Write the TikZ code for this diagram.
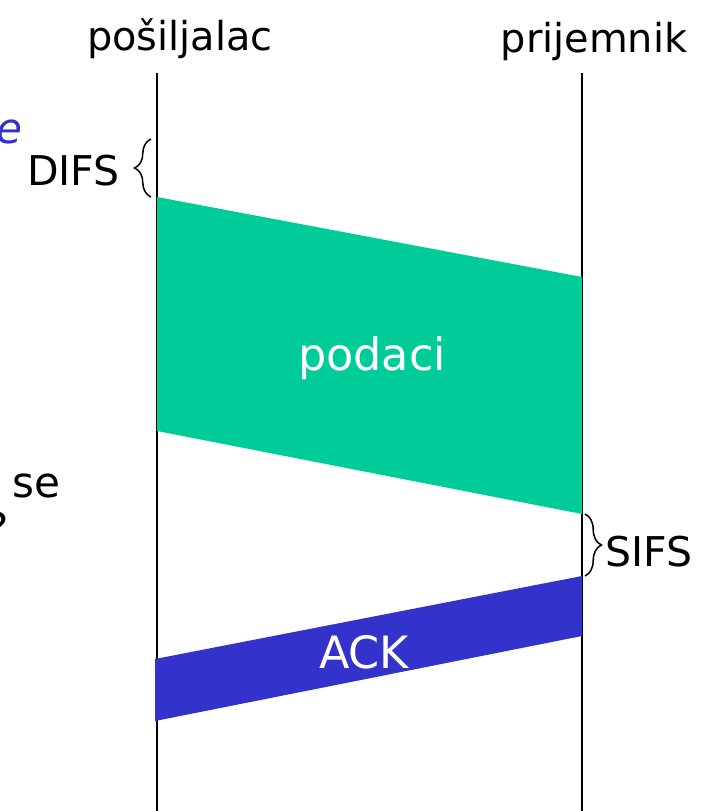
\documentclass[tikz,border=0pt]{standalone}
\usepackage{fontspec}
\setmainfont{DejaVu Sans}
\usetikzlibrary{calc,positioning,decorations.pathreplacing}
\definecolor{podacigreen}{RGB}{0,204,153}
\definecolor{ackblue}{RGB}{51,51,204}
\tikzset{
  station/.style={
      font=\fontsize{34}{40}\selectfont,
      anchor=base,
      inner sep=0pt,
  },
  timeline/.style={
      draw,
      line width=1.2pt,
  },
  framelabel/.style={
      text=white,
      font=\fontsize{38}{44}\selectfont,
      anchor=base,
      inner sep=0pt,
  },
  gap/.style={
      draw,
      decorate,
      decoration={brace,amplitude=14pt},
      line width=1.3pt,
  },
  gaplabel/.style={
      font=\fontsize{35}{41}\selectfont,
      inner sep=0pt,
  },
  cutoff/.style={
      font=\fontsize{36}{42}\selectfont,
      anchor=base east,
      inner sep=0pt,
  }
}

\begin{document}
\begin{tikzpicture}[x=0.03cm,y=-0.03cm]
  \useasboundingbox (0,0) rectangle (715,811);
  % time lines
  \coordinate (s0) at (157,73);
  \coordinate (s1) at (157,811);
  \coordinate (r0) at (582,73);
  \coordinate (r1) at (582,811);
  \draw[timeline] (s0) -- (s1);
  \draw[timeline] (r0) -- (r1);
  \node[station](sender) at (180,50) {pošiljalac};
  \node[station](receiver) at (594,52) {prijemnik};
  % frames
  \coordinate (d1) at (157,197);
  \coordinate (d2) at (582,277);
  \coordinate (d3) at (582,514);
  \coordinate (d4) at (157,431);
  \fill[podacigreen] (d1) -- (d2) -- (d3) -- (d4) -- cycle;
  \node[framelabel](podaci) at (372,370) {podaci};
  \coordinate (a1) at (582,576);
  \coordinate (a2) at (582,636);
  \coordinate (a3) at (155,721);
  \coordinate (a4) at (155,659);
  \fill[ackblue] (a1) -- (a2) -- (a3) -- (a4) -- cycle;
  \node[framelabel](ack) at (364,668) {ACK};
  % inter frame spaces
  \draw[gap] (151,197) -- node[gaplabel,left=26pt,yshift=-2pt](difs){DIFS} (151,139);
  \draw[gap] (585,514) -- node[gaplabel,right=17pt,yshift=-6pt](sifs){SIFS} (585,576);
  % text cut off at the left edge
  \node[cutoff,text=ackblue,font=\fontsize{36}{42}\selectfont\itshape](cut1) at (23,143) {e};
  \node[cutoff](cut2) at (61,497) {se};
  \node[cutoff](cut3) at (9,543) {?};
\end{tikzpicture}
\end{document}
